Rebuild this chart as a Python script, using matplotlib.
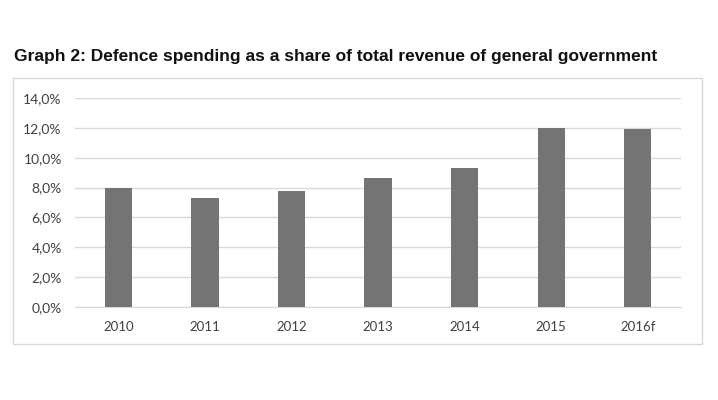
import matplotlib.pyplot as plt
import numpy as np
from matplotlib.patches import Rectangle

years = ['2010', '2011', '2012', '2013', '2014', '2015', '2016f']
share = [8.0, 7.3, 7.75, 8.65, 9.3, 12.0, 11.95]
yticks = [0, 2, 4, 6, 8, 10, 12, 14]

fig = plt.figure(figsize=(7.18, 4.0), dpi=100)
fig.patch.set_facecolor('white')

# light frame around the chart area
fig.patches.append(Rectangle((0.0181, 0.14), 0.9596, 0.665, transform=fig.transFigure,
                             fill=False, edgecolor='#d9d9d9', linewidth=1.0))

fig.text(0.0195, 0.8575, 'Graph 2: Defence spending as a share of total revenue of general government',
         fontsize=12.55, fontweight='bold', family='Liberation Sans', va='center', ha='left',
         color='#111111')

ax = fig.add_axes([0.1045, 0.2333, 0.844, 0.521])
x = np.arange(len(years))
ax.bar(x, share, width=0.315, color='#747474', zorder=3)

ax.set_xlim(-0.5, 6.5)
ax.set_ylim(0, 14)
ax.set_yticks(yticks)
ax.set_yticklabels([f'{v:.1f}'.replace('.', ',') + '%' for v in yticks])
ax.set_xticks(x)
ax.set_xticklabels(years)
ax.yaxis.grid(True, color='#d9d9d9', linewidth=1.0, zorder=0)
ax.set_axisbelow(True)
for s in ['top', 'right', 'left']:
    ax.spines[s].set_visible(False)
ax.spines['bottom'].set_color('#d9d9d9')
ax.tick_params(axis='both', length=0, labelcolor='#404040')
ax.tick_params(axis='y', pad=9.5, labelsize=10)
ax.tick_params(axis='x', pad=10, labelsize=9.5)
for lab in ax.get_xticklabels() + ax.get_yticklabels():
    lab.set_family('Lato')

fig.savefig('out.png', dpi=100)
